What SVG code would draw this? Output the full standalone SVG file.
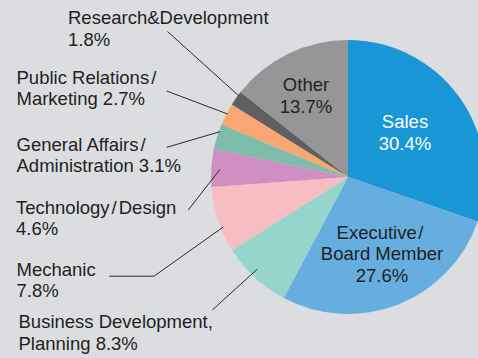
<svg xmlns="http://www.w3.org/2000/svg" width="478" height="358" viewBox="0 0 478 358">
<style>
text{font-family:"Liberation Sans",Arial,sans-serif;font-size:18.5px;fill:#231f20}
.in{text-anchor:middle}
.w{fill:#ffffff}
.ld{stroke:#2a2a2a;stroke-width:1;fill:none}
</style>
<rect width="478" height="358" fill="#dcdde0"/>
<g id="pie">
<g id="sales"><path d="M348,177 L348,40 A137,137 0 0 1 477.61,221.38 Z" fill="#1996d5"/><text class="in w" x="405" y="128">Sales</text><text class="in w" x="405" y="150">30.4%</text></g>
<g id="executive"><path d="M348,177 L477.61,221.38 A137,137 0 0 1 283.68,297.96 Z" fill="#67aee0"/><text class="in" x="380" y="239">Executive<tspan dx="1.5">/</tspan></text><text class="in" x="382" y="260">Board Member</text><text class="in" x="382" y="281.5">27.6%</text></g>
<g id="business"><path d="M348,177 L283.68,297.96 A137,137 0 0 1 232.2,250.21 Z" fill="#96d5cb"/><text x="18.5" y="327.5">Business Development,</text><text x="18.5" y="350">Planning 8.3%</text></g>
<g id="mechanic"><path d="M348,177 L232.2,250.21 A137,137 0 0 1 211.37,187.03 Z" fill="#f8bdc3"/><text x="16.5" y="275.5">Mechanic</text><text x="16.5" y="297">7.8%</text></g>
<g id="technology"><path d="M348,177 L211.37,187.03 A137,137 0 0 1 213.9,148.98 Z" fill="#cf8fc2"/><text x="16" y="213.5">Technology<tspan dx="2">/</tspan><tspan dx="2">Design</tspan></text><text x="16" y="234.5">4.6%</text></g>
<g id="general"><path d="M348,177 L213.9,148.98 A137,137 0 0 1 221.43,124.57 Z" fill="#7fbca9"/><text x="16.5" y="151">General Affairs<tspan dx="2">/</tspan></text><text x="16.5" y="172">Administration 3.1%</text></g>
<g id="public"><path d="M348,177 L221.43,124.57 A137,137 0 0 1 231.82,104.4 Z" fill="#f8a772"/><text x="16.5" y="84">Public Relations<tspan dx="2">/</tspan></text><text x="16.5" y="105">Marketing 2.7%</text></g>
<g id="rnd"><path d="M348,177 L231.82,104.4 A137,137 0 0 1 240.53,92.03 Z" fill="#5f5f61"/><text x="68" y="24">Research&amp;Development</text><text x="68" y="46">1.8%</text></g>
<g id="other"><path d="M348,177 L240.53,92.03 A137,137 0 0 1 348,40 Z" fill="#969698"/><text class="in" x="306" y="91">Other</text><text class="in" x="306" y="112.5">13.7%</text></g>
</g>
<g id="connectors">
<line class="ld" x1="167.5" y1="31.5" x2="239" y2="96"/>
<line class="ld" x1="166.7" y1="91" x2="227.7" y2="114"/>
<line class="ld" x1="166.7" y1="147.3" x2="220" y2="131.7"/>
<line class="ld" x1="188.3" y1="210" x2="220" y2="169.3"/>
<polyline class="ld" points="109.3,276.2 154,276.2 223.3,227"/>
<line class="ld" x1="212.3" y1="310" x2="257.3" y2="269.2"/>
</g>
</svg>
